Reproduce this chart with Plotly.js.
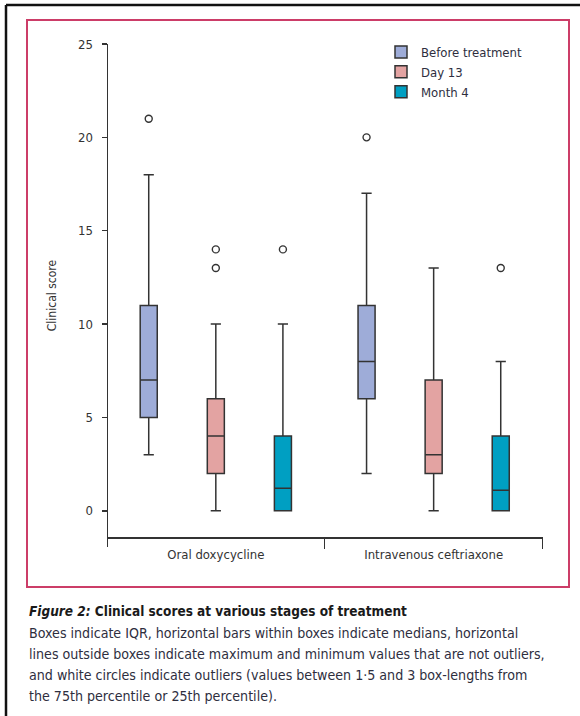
<!DOCTYPE html>
<html>
<head>
<meta charset="utf-8">
<script src="https://cdn.plot.ly/plotly-3.0.1.min.js"></script>
<style>
  html, body { margin: 0; padding: 0; background: #fff; }
  #chart { width: 580px; height: 716px; }
</style>
</head>
<body>
<div id="chart"></div>
<script>
// ---- data ----
var groups = ["Oral doxycycline", "Intravenous ceftriaxone"];
var seriesNames = ["Before treatment", "Day 13", "Month 4"];

var beforeLow    = [3, 2];
var beforeQ1     = [5, 6];
var beforeMedian = [7, 8];
var beforeQ3     = [11, 11];
var beforeHigh   = [18, 17];
var beforeOutliers = [[21], [20]];

var day13Low    = [0, 0];
var day13Q1     = [2, 2];
var day13Median = [4, 3];
var day13Q3     = [6, 7];
var day13High   = [10, 13];
var day13Outliers = [[13, 14], []];

var month4Low    = [0, 0];
var month4Q1     = [0, 0];
var month4Median = [1.2, 1.1];
var month4Q3     = [4, 4];
var month4High   = [10, 8];
var month4Outliers = [[14], [13]];

var yTickVals = [0, 5, 10, 15, 20, 25];
var yTickText = ["0", "5", "10", "15", "20", "25"];

var captionTitle = "<i>Figure 2:</i> Clinical scores at various stages of treatment";
var captionLines = [
  "Boxes indicate IQR, horizontal bars within boxes indicate medians, horizontal",
  "lines outside boxes indicate maximum and minimum values that are not outliers,",
  "and white circles indicate outliers (values between 1·5 and 3 box-lengths from",
  "the 75th percentile or 25th percentile)."
];

// ---- layout helpers (pixel -> paper) ----
var L = 108, R = 543, T = 44, B = 547;
var W = 580, H = 716;
function px(x) { return (x - L) / (R - L); }
function py(y) { return (B - y) / (B - T); }

var FONT = "Liberation Sans Narrow, DejaVu Sans Condensed, Arial Narrow, sans-serif";
var LINE = "#333333";

function boxTrace(name, low, q1, med, q3, high, outl, fill) {
  return {
    type: "box",
    name: name,
    x: groups,
    y: outl,
    q1: q1, median: med, q3: q3,
    lowerfence: low, upperfence: high,
    boxpoints: "outliers",
    jitter: 0, pointpos: 0,
    fillcolor: fill,
    line: { color: LINE, width: 1.5 },
    whiskerwidth: 0.6,
    marker: { symbol: "circle-open", color: LINE, size: 7, line: { width: 1.4, color: LINE } },
    hoverinfo: "skip"
  };
}

var data = [
  boxTrace(seriesNames[0], beforeLow, beforeQ1, beforeMedian, beforeQ3, beforeHigh, beforeOutliers, "#9eacd8"),
  boxTrace(seriesNames[1], day13Low, day13Q1, day13Median, day13Q3, day13High, day13Outliers, "#e3a3a2"),
  boxTrace(seriesNames[2], month4Low, month4Q1, month4Median, month4Q3, month4High, month4Outliers, "#009fc2")
];

var shapes = [
  // outer black frame (top and left visible)
  { type: "line", xref: "paper", yref: "paper", x0: px(6), x1: px(620), y0: py(5), y1: py(5), line: { color: "#111", width: 2.5 } },
  { type: "line", xref: "paper", yref: "paper", x0: px(6), x1: px(6), y0: py(5), y1: py(760), line: { color: "#111", width: 2.5 } },
  // pink panel border
  { type: "rect", xref: "paper", yref: "paper", x0: px(27), x1: px(569), y0: py(20), y1: py(587), line: { color: "#cc3d68", width: 2 } }
];

var annotations = [
  { xref: "paper", yref: "paper", x: px(27), y: py(611), xanchor: "left", yanchor: "middle", showarrow: false, align: "left",
    text: "<b>" + captionTitle + "</b>", font: { family: FONT, size: 13.5, color: "#1a1a1a" } }
];
var lineY = [633, 654, 675, 696];
for (var i = 0; i < captionLines.length; i++) {
  annotations.push({ xref: "paper", yref: "paper", x: px(27), y: py(lineY[i]), xanchor: "left", yanchor: "middle",
    showarrow: false, align: "left", text: captionLines[i], font: { family: FONT, size: 14.1, color: "#2e2e3e" } });
}

var layout = {
  width: W, height: H,
  margin: { l: L, r: W - R, t: T, b: H - B, pad: 0 },
  paper_bgcolor: "#fff", plot_bgcolor: "#fff",
  font: { family: FONT, color: "#333", size: 13 },
  boxmode: "group",
  boxgap: 0.076,
  boxgroupgap: 0.746,
  showlegend: true,
  legend: {
    x: px(381), y: py(37), xanchor: "left", yanchor: "top",
    font: { family: FONT, size: 13, color: "#2e2e3e" },
    bgcolor: "rgba(0,0,0,0)", borderwidth: 0, tracegroupgap: 0
  },
  xaxis: {
    type: "category",
    range: [-0.495, 1.502],
    anchor: "free", position: py(537),
    showline: true, linecolor: LINE, linewidth: 1.5,
    ticks: "outside", tickson: "boundaries", ticklen: 10, tickwidth: 1.5, tickcolor: LINE,
    ticklabelstandoff: 5,
    showgrid: false, zeroline: false,
    tickfont: { family: FONT, size: 13, color: "#333" },
    fixedrange: true
  },
  yaxis: {
    range: [-1.94, 25],
    tickvals: yTickVals, ticktext: yTickText,
    showline: true, linecolor: LINE, linewidth: 1.5,
    ticks: "outside", ticklen: 5, tickwidth: 1.5, tickcolor: LINE,
    ticklabelstandoff: 6,
    showgrid: false, zeroline: false,
    tickfont: { family: FONT, size: 13, color: "#333" },
    title: { text: "Clinical score", font: { family: FONT, size: 12, color: "#333" }, standoff: 19 },
    fixedrange: true
  },
  shapes: shapes,
  annotations: annotations
};

Plotly.newPlot("chart", data, layout, { displayModeBar: false, staticPlot: true });
</script>
</body>
</html>
